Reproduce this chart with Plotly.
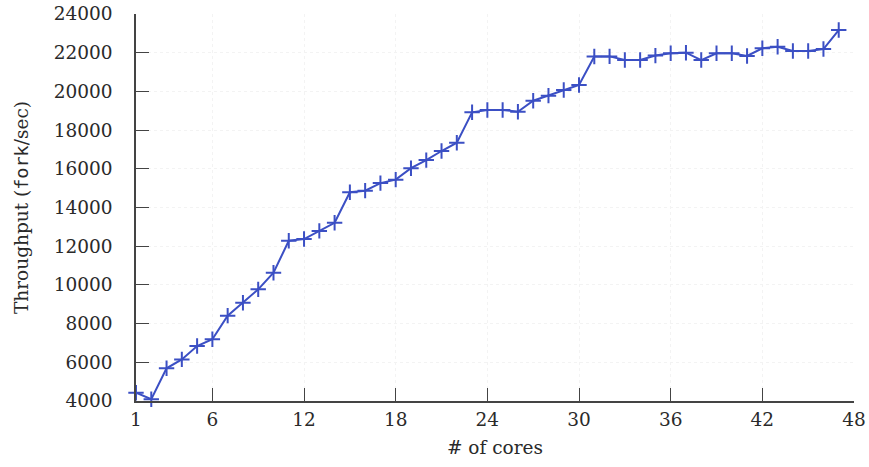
import plotly.graph_objects as go

cores = list(range(1, 48))
throughput = [4430, 4090, 5690, 6150, 6840, 7190, 8410, 9080, 9770, 10630,
              12280, 12370, 12790, 13210, 14790, 14870, 15260, 15440, 16030, 16450,
              16920, 17350, 18920, 19040, 19040, 18950, 19520, 19780, 20070, 20330,
              21800, 21810, 21620, 21620, 21850, 21970, 22000, 21620, 21970, 21970,
              21830, 22230, 22310, 22090, 22090, 22190, 23170]
x_ticks = [1, 6, 12, 18, 24, 30, 36, 42, 48]
y_ticks = list(range(4000, 24001, 2000))

serif = "DejaVu Serif, serif"
line_color = "#3b4fc4"
text_color = "#2a2a2a"
fsize = 18.5

fig = go.Figure()
fig.add_trace(go.Scatter(
    x=cores, y=throughput, mode="lines+markers",
    line=dict(color=line_color, width=2),
    marker=dict(symbol="cross-thin-open", size=11,
                line=dict(color=line_color, width=2)),
    cliponaxis=False, showlegend=False,
))

axis_common = dict(
    showline=True, linecolor="#444444", linewidth=1.5,
    ticks="inside", ticklen=13, tickwidth=1.3, tickcolor="#444444",
    showgrid=True, gridcolor="#f3f3f3", griddash="dot", gridwidth=1,
    zeroline=False, mirror=False, automargin=False,
    tickfont=dict(family=serif, size=fsize, color=text_color),
)

fig.update_layout(
    width=869, height=467,
    margin=dict(l=136, r=15, t=14, b=66),
    paper_bgcolor="white", plot_bgcolor="white",
    xaxis=dict(range=[1, 48], tickvals=x_ticks, ticktext=[str(v) for v in x_ticks],
               ticklabelstandoff=1,
               title=dict(text="# of cores", font=dict(family=serif, size=fsize, color=text_color),
                          standoff=12),
               **axis_common),
    yaxis=dict(range=[4000, 24000], tickvals=y_ticks, ticktext=[str(v) for v in y_ticks],
               ticklabelstandoff=18,
               title=dict(text="Throughput (<span style='font-family:DejaVu Sans Mono'>fork</span>/sec)",
                          font=dict(family=serif, size=fsize, color=text_color), standoff=20),
               **axis_common),
)

fig.write_html("out.html", config={"displayModeBar": False},
               post_script="document.body.style.margin='0';")
